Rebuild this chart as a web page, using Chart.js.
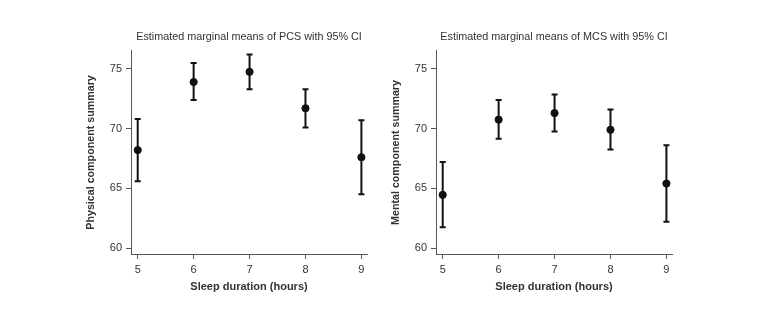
<!DOCTYPE html>
<html>
<head>
<meta charset="utf-8">
<script src="https://cdn.jsdelivr.net/npm/chart.js@4"></script>
<style>
  body { margin: 0; background: #fff; }
  .wrap { position: relative; width: 770px; height: 323px; }
  canvas { position: absolute; top: 0; }
  #graphique-pcs { left: 0; }
  #graphique-mcs { left: 385px; }
</style>
</head>
<body>
<div class="wrap">
  <canvas id="graphique-pcs" width="385" height="323"></canvas>
  <canvas id="graphique-mcs" width="385" height="323"></canvas>
</div>
<script>
// Durée de sommeil (heures)
const heures = [5, 6, 7, 8, 9];
const yTicks = [60, 65, 70, 75];

// PCS : moyenne et IC 95%
const pcsMoyenne = [68.2, 73.9, 74.75, 71.7, 67.6];
const pcsBas = [65.6, 72.4, 73.3, 70.1, 64.5];
const pcsHaut = [70.8, 75.5, 76.2, 73.3, 70.7];

// MCS : moyenne et IC 95%
const mcsMoyenne = [64.45, 70.75, 71.3, 69.9, 65.4];
const mcsBas = [61.75, 69.15, 69.75, 68.25, 62.2];
const mcsHaut = [67.2, 72.4, 72.85, 71.6, 68.6];

const couleurTexte = "#333";
const police = "'Liberation Sans', Arial, sans-serif";

// Plugin qui trace les barres d'erreur à partir des échelles
const barresErreur = {
    id: "barresErreur",
    beforeDatasetsDraw(chart) {
        const ctx = chart.ctx;
        const x = chart.scales.x;
        const y = chart.scales.y;
        const ds = chart.data.datasets[0];
        ctx.save();
        ctx.strokeStyle = "#111";
        ctx.lineWidth = 2;
        for (let i = 0; i < ds.data.length; i++) {
            const px = x.getPixelForValue(ds.data[i].x);
            const yb = y.getPixelForValue(ds.bas[i]);
            const yh = y.getPixelForValue(ds.haut[i]);
            ctx.beginPath();
            ctx.moveTo(px, yb);
            ctx.lineTo(px, yh);
            ctx.moveTo(px - 3, yb);
            ctx.lineTo(px + 3, yb);
            ctx.moveTo(px - 3, yh);
            ctx.lineTo(px + 3, yh);
            ctx.stroke();
        }
        ctx.restore();
    }
};

function creerGraphique(id, titre, titreY, moyenne, bas, haut, padGauche, padDroite){
    const points = [];
    for (let i = 0; i < heures.length; i++){
        points.push({x: heures[i], y: moyenne[i]});
    }
    const config = {
        type: "scatter",
        data: {
            datasets: [{
                data: points,
                bas: bas,
                haut: haut,
                backgroundColor: "#111",
                borderColor: "#111",
                pointRadius: 3.6,
                pointHoverRadius: 3.6
            }]
        },
        options: {
            responsive: false,
            animation: false,
            layout: { padding: { left: padGauche, right: padDroite, top: 0, bottom: 25 } },
            plugins: {
                legend: { display: false },
                tooltip: { enabled: false },
                title: {
                    display: true,
                    text: titre,
                    fullSize: false,
                    color: couleurTexte,
                    font: { family: police, size: 10.8, weight: "normal" },
                    padding: { top: 30.5, bottom: 7.5 }
                }
            },
            scales: {
                x: {
                    type: "linear",
                    min: 4.88,
                    max: 9.1,
                    afterBuildTicks: function(scale){ scale.ticks = heures.map(v => ({value: v})); },
                    afterFit: function(scale){ scale.height = 44; },
                    grid: { drawOnChartArea: false, drawTicks: true, tickLength: 5, color: "#555" },
                    border: { color: "#555", width: 1 },
                    ticks: { color: couleurTexte, font: { family: police, size: 11 }, padding: 4 },
                    title: {
                        display: true,
                        text: "Sleep duration (hours)",
                        color: couleurTexte,
                        font: { family: police, size: 11, weight: "bold" },
                        padding: { top: 0, bottom: 4 }
                    }
                },
                y: {
                    min: 59.5,
                    max: 76.5,
                    afterBuildTicks: function(scale){ scale.ticks = yTicks.map(v => ({value: v})); },
                    afterFit: function(scale){ scale.width = 51; },
                    grid: { drawOnChartArea: false, drawTicks: true, tickLength: 5, color: "#555" },
                    border: { color: "#555", width: 1 },
                    ticks: { color: couleurTexte, font: { family: police, size: 11 }, padding: 4 },
                    title: {
                        display: true,
                        text: titreY,
                        color: couleurTexte,
                        font: { family: police, size: 10.7, weight: "bold" },
                        padding: { top: 5, bottom: 0 }
                    }
                }
            }
        },
        plugins: [barresErreur]
    };
    return new Chart(document.querySelector(id), config);
}

creerGraphique("#graphique-pcs", "Estimated marginal means of PCS with 95% CI",
    "Physical component summary", pcsMoyenne, pcsBas, pcsHaut, 80, 18);
creerGraphique("#graphique-mcs", "Estimated marginal means of MCS with 95% CI",
    "Mental component summary", mcsMoyenne, mcsBas, mcsHaut, 0, 98);
</script>
</body>
</html>
